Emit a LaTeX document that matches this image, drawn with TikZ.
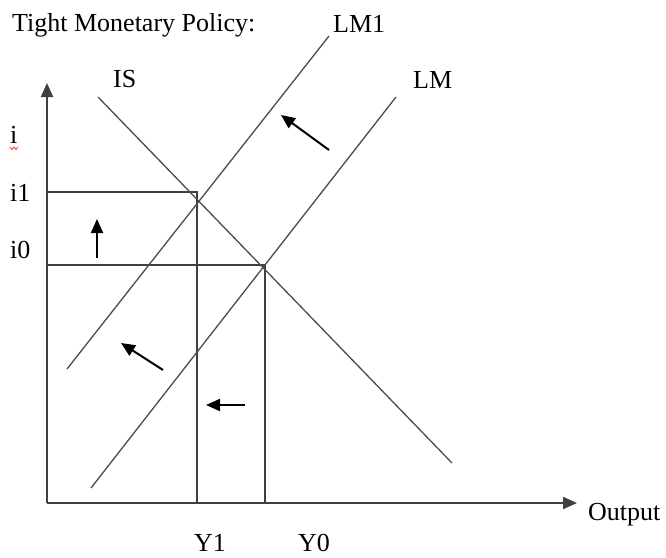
\documentclass[tikz,border=0pt]{standalone}
\usepackage{fontspec}
\setmainfont{Liberation Serif}
\usetikzlibrary{arrows.meta}
\begin{document}
\begin{tikzpicture}[x=1pt,y=-1pt,
  lbl/.style={anchor=base west,inner sep=0pt,font=\fontsize{26}{30}\selectfont},
  axisline/.style={draw=black!75,line width=2pt,-{Triangle[length=14pt,width=12pt]}},
  curve/.style={draw=black!70,line width=1.3pt},
  guide/.style={draw=black!75,line width=1.6pt},
  shiftarrow/.style={draw=black,line width=2pt,-{Triangle[length=14pt,width=12pt]}}]
\useasboundingbox[fill=white] (0,0) rectangle (666,557);
% coordinates
\coordinate (O) at (47,503);
\coordinate (Ytop) at (47,83);
\coordinate (Xend) at (577,503);
\coordinate (IStop) at (98,97);
\coordinate (ISbot) at (452,463);
\coordinate (LMonetop) at (329,36);
\coordinate (LMonebot) at (67,369);
\coordinate (LMtop) at (396,97);
\coordinate (LMbot) at (91,488);
\coordinate (iOneL) at (47,192);
\coordinate (YOneB) at (197,503);
\coordinate (iZeroL) at (47,265);
\coordinate (YZeroB) at (265,503);
\coordinate (a1s) at (329,150); \coordinate (a1e) at (281,115);
\coordinate (a2s) at (97,258);  \coordinate (a2e) at (97,219);
\coordinate (a3s) at (163,370); \coordinate (a3e) at (121,343);
\coordinate (a4s) at (245,405); \coordinate (a4e) at (206,405);
% labels
\node[lbl] (title) at (12,31) {Tight Monetary Policy:};
\node[lbl] (lmone) at (333,32) {LM1};
\node[lbl] (is) at (113,87) {IS};
\node[lbl] (lm) at (413,88) {LM};
\node[lbl] (i) at (10,143) {i};
\node[lbl] (ione) at (10,201) {i1};
\node[lbl] (izero) at (10,258) {i0};
\node[lbl] (yone) at (194,551) {Y1};
\node[lbl] (yzero) at (298,551) {Y0};
\node[lbl] (out) at (588,520) {Output};
% spell-check squiggle
\draw[red!80,line width=0.8pt] (10,147)--(12,149.5)--(14,147)--(16,149.5)--(18,147);
% guides
\draw[guide] (iOneL) -| (YOneB);
\draw[guide] (iZeroL) -| (YZeroB);
% curves
\draw[curve] (IStop) -- (ISbot);
\draw[curve] (LMonebot) -- (LMonetop);
\draw[curve] (LMbot) -- (LMtop);
% axes
\draw[axisline] (O) -- (Ytop);
\draw[axisline] (O) -- (Xend);
% shift arrows
\draw[shiftarrow] (a1s) -- (a1e);
\draw[shiftarrow] (a2s) -- (a2e);
\draw[shiftarrow] (a3s) -- (a3e);
\draw[shiftarrow] (a4s) -- (a4e);
\end{tikzpicture}
\end{document}
